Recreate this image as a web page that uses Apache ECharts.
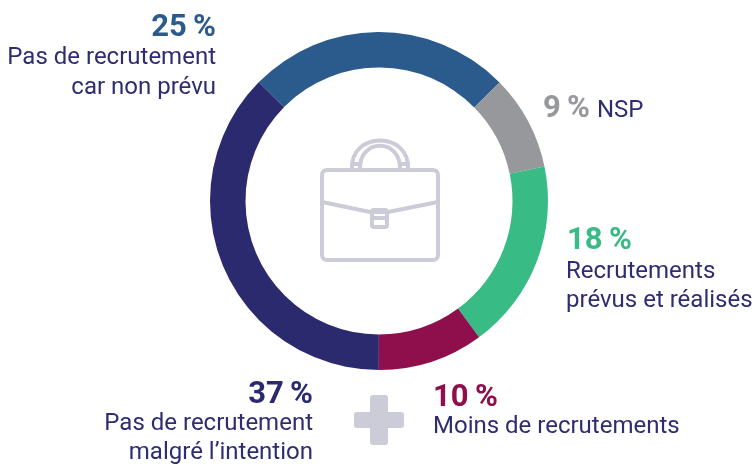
<!DOCTYPE html>
<html><head><meta charset="utf-8">
<script src="https://cdn.jsdelivr.net/npm/echarts@6/dist/echarts.min.js"></script>
<style>html,body{margin:0;padding:0;background:#fff}#c{width:756px;height:464px}</style></head>
<body><div id="c"></div>
<script>
var names = ['Pas de recrutement car non prévu','NSP','Recrutements prévus et réalisés','Moins de recrutements','Pas de recrutement malgré l’intention'];
var values = [25, 9, 18, 10, 37];
var colors = ['#2a5b8c','#97989b','#38bb85','#8e0f4b','#2c2a6e'];
var pctLabels = ['25\u2009%','9\u2009%','18\u2009%','10\u2009%','37\u2009%'];
var textColor = '#2e2d72', iconColor = '#cccbd8';
var font = 'Roboto';
var chart = echarts.init(document.getElementById('c'), null, {renderer:'canvas'});
function pct(i,x,y,align){return {type:'text',style:{text:pctLabels[i],x:x,y:y+3,align:align,verticalAlign:'middle',fill:colors[i],font:'700 31px '+font}};}
function lab(t,x,y,align,size){return {type:'text',style:{text:t,x:x,y:y+2,align:align,verticalAlign:'middle',fill:textColor,font:'400 '+(size||24)+'px '+font}};}
var stroke = {stroke:iconColor,fill:null,lineWidth:4,lineJoin:'round',lineCap:'round'};
function poly(p){return {type:'polyline',shape:{points:p},style:stroke};}
function curve(x1,y1,x2,y2,c1x,c1y,c2x,c2y){return {type:'bezierCurve',shape:{x1:x1,y1:y1,x2:x2,y2:y2,cpx1:c1x,cpy1:c1y,cpx2:c2x,cpy2:c2y},style:stroke};}
var option = {
  animation:false,
  backgroundColor:'#fff',
  series:[{
    type:'pie',center:[379,201],radius:[133.5,169],startAngle:135.4,clockwise:true,
    label:{show:false},labelLine:{show:false},silent:true,
    data:names.map(function(n,i){return {name:n,value:values[i],itemStyle:{color:colors[i]}};})
  }],
  graphic:{elements:[
    pct(0,216,25,'right'),lab('Pas de recrutement',216,56,'right'),lab('car non prévu',216,86,'right'),
    pct(1,590,106,'right'),lab('NSP',597,109,'left'),
    pct(2,567,238,'left'),lab('Recrutements',566,270,'left'),lab('prévus et réalisés',566,299,'left'),
    pct(3,433,395,'left'),lab('Moins de recrutements',433,425,'left'),
    pct(4,313,392,'right'),lab('Pas de recrutement',313,422,'right'),lab('malgré l’intention',313,451,'right'),
    {type:'rect',shape:{x:370,y:395,width:18,height:50,r:3},style:{fill:iconColor}},
    {type:'rect',shape:{x:354,y:412,width:50,height:16,r:3},style:{fill:iconColor}},
    {type:'rect',shape:{x:322,y:170,width:116,height:90,r:5},style:stroke},
    poly([[322,202],[370,212]]),poly([[388,212],[438,202]]),poly([[370,212],[388,212]]),
    {type:'rect',shape:{x:372,y:210,width:15,height:17,r:2},style:stroke},
    poly([[374,218],[386,218]]),
    curve(352,169,408,169,350,131,410,131),
    curve(360,169,400,169,359,138,401,138),
    poly([[352,164],[360,164]]),poly([[400,164],[408,164]])
  ]}
};
chart.setOption(option);
</script></body></html>
